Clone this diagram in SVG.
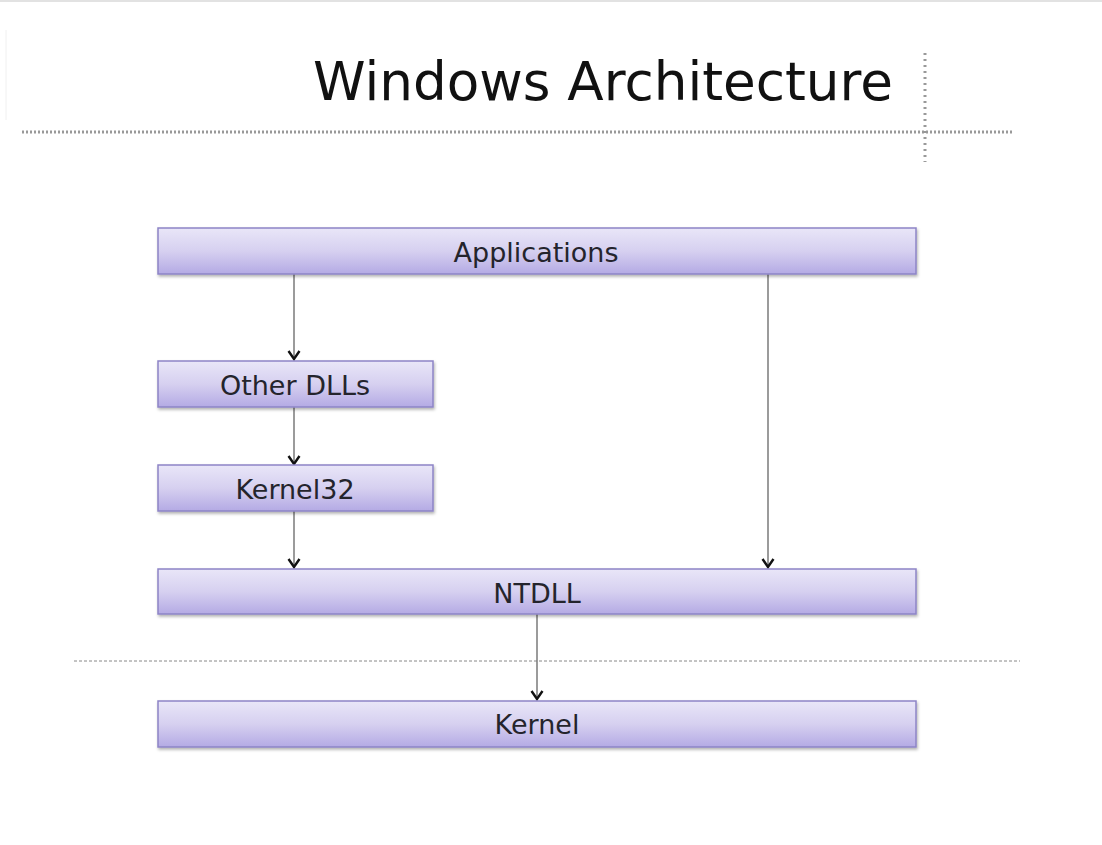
<svg xmlns="http://www.w3.org/2000/svg" width="1102" height="845" viewBox="0 0 1102 845">
<defs>
<linearGradient id="boxg" x1="0" y1="0" x2="0" y2="1">
<stop offset="0" stop-color="#e9e6f8"/>
<stop offset="0.5" stop-color="#d6d0f0"/>
<stop offset="1" stop-color="#b4aae4"/>
</linearGradient>
<filter id="sh" x="-5%" y="-20%" width="110%" height="150%">
<feDropShadow dx="1" dy="2" stdDeviation="1.5" flood-color="#000" flood-opacity="0.3"/>
</filter>
<marker id="arr" viewBox="0 0 12 14" refX="10" refY="7" markerWidth="12" markerHeight="14" markerUnits="userSpaceOnUse" orient="auto">
<path d="M2,1.5 L10,7 L2,12.5" fill="none" stroke="#111" stroke-width="2.4"/>
</marker>
</defs>
<style>
.box{fill:url(#boxg);stroke:#8d84c6;stroke-width:1.5;filter:url(#sh)}
.lbl{font-family:"DejaVu Sans",Verdana,sans-serif;font-size:27px;fill:#24242c;text-anchor:middle}
.conn{stroke:#7a7a7a;stroke-width:1.5;fill:none}
</style>
<rect width="1102" height="845" fill="#fff"/>
<line x1="0" y1="1" x2="1102" y2="1" stroke="#e2e2e2" stroke-width="2"/>
<line x1="6" y1="30" x2="6" y2="120" stroke="#f0f0f0" stroke-width="1"/>
<text x="893" y="100" font-family="'DejaVu Sans',Verdana,sans-serif" font-size="53" fill="#111" text-anchor="end" textLength="580" lengthAdjust="spacingAndGlyphs">Windows Architecture</text>
<line x1="22" y1="132" x2="1012" y2="132" stroke="#999" stroke-width="3" stroke-dasharray="2,2"/>
<line x1="925" y1="53" x2="925" y2="162" stroke="#999" stroke-width="3" stroke-dasharray="2,4"/>
<line x1="74" y1="661" x2="1020" y2="661" stroke="#888" stroke-width="1" stroke-dasharray="3,2"/>
<g id="connectors">
<line class="conn" x1="294" y1="274" x2="294" y2="359" marker-end="url(#arr)"/>
<line class="conn" x1="294" y1="407" x2="294" y2="464" marker-end="url(#arr)"/>
<line class="conn" x1="294" y1="511" x2="294" y2="567" marker-end="url(#arr)"/>
<line class="conn" x1="768" y1="274" x2="768" y2="567" marker-end="url(#arr)"/>
<line class="conn" x1="537" y1="614" x2="537" y2="699" marker-end="url(#arr)"/>
</g>
<g id="applications"><rect class="box" x="158" y="228" width="758" height="46"/><text class="lbl" x="536" y="262">Applications</text></g>
<g id="otherdlls"><rect class="box" x="158" y="361" width="275" height="46"/><text class="lbl" x="295" y="395">Other DLLs</text></g>
<g id="kernel32"><rect class="box" x="158" y="465" width="275" height="46"/><text class="lbl" x="295" y="499">Kernel32</text></g>
<g id="ntdll"><rect class="box" x="158" y="569" width="758" height="45"/><text class="lbl" x="537" y="603">NTDLL</text></g>
<g id="kernel"><rect class="box" x="158" y="701" width="758" height="46"/><text class="lbl" x="537" y="734">Kernel</text></g>
</svg>
